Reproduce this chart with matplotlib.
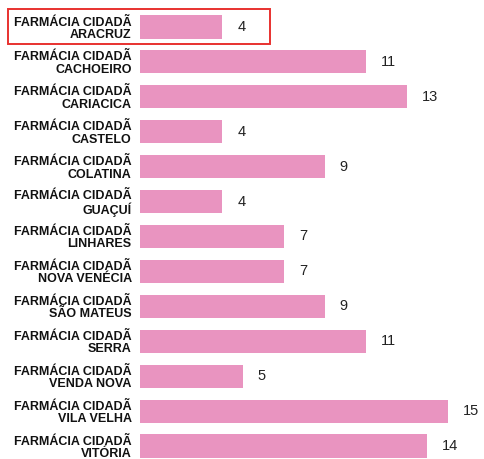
import matplotlib
matplotlib.use("Agg")
import matplotlib.pyplot as plt
from matplotlib.patches import Rectangle

cities = ["ARACRUZ", "CACHOEIRO", "CARIACICA", "CASTELO", "COLATINA", "GUAÇUÍ",
          "LINHARES", "NOVA VENÉCIA", "SÃO MATEUS", "SERRA", "VENDA NOVA",
          "VILA VELHA", "VITÓRIA"]
values = [4, 11, 13, 4, 9, 4, 7, 7, 9, 11, 5, 15, 14]
prefix = "FARMÁCIA CIDADÃ"
labels = [f"{prefix}\n{c}" for c in cities]

W, H = 484, 459
fig = plt.figure(figsize=(W / 100, H / 100), dpi=100)
x0 = 140
ax = fig.add_axes([x0 / W, 0, (W - x0) / W, 1])

pxu = 20.5
ax.set_xlim(0, (W - x0) / pxu)
rowh = (446 - 27) / 12
ax.set_ylim(12 + (H - 446) / rowh, -27 / rowh)

pos = list(range(len(cities)))
ax.barh(pos, values, height=0.66, color="#E994C0", edgecolor="none")
for p, v in zip(pos, values):
    ax.annotate(str(v), (v, p), xytext=(11, 0), textcoords="offset points",
                ha="left", va="center", fontsize=10.5, color="#222222",
                family="Liberation Sans")

ax.set_yticks(pos)
ax.set_yticklabels(labels, fontsize=9.0, fontweight="bold", family="Liberation Sans",
                   linespacing=1.05, ha="right", multialignment="right", color="#111111")
ax.tick_params(axis="y", length=0, pad=6)
ax.set_xticks([])
for s in ax.spines.values():
    s.set_visible(False)

fig.patches.append(Rectangle((7.5 / W, 1 - 44 / H), (269.5 - 7.5) / W, (44 - 9) / H,
                             transform=fig.transFigure, fill=False,
                             edgecolor="#E8312F", linewidth=1.4))

fig.savefig("out.png", dpi=100)
